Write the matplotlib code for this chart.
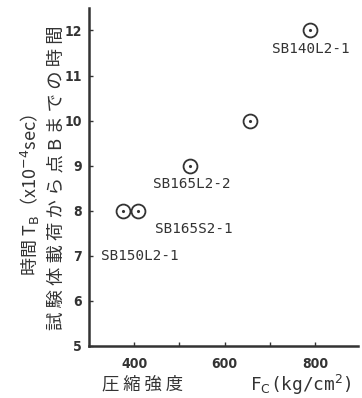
import matplotlib.pyplot as plt

plt.rcParams['font.family'] = ['Noto Sans CJK JP', 'DejaVu Sans']

# data
fc = [376, 409, 524, 655, 789]
tb = [8.0, 8.0, 9.0, 10.0, 12.0]
names = ['SB150L2-1', 'SB165S2-1', 'SB165L2-2', 'SB140L2-1']
name_x = [412, 531, 527, 790]
name_y = [7.0, 7.6, 8.6, 11.6]
yticks = [5, 6, 7, 8, 9, 10, 11, 12]

ink = '#333333'

fig = plt.figure(figsize=(3.62, 3.98), dpi=100)
ax = fig.add_axes([0.246, 0.131, 0.743, 0.849])

ax.plot(fc, tb, 'o', ms=10, mfc='none', mec=ink, mew=1.3)
ax.plot(fc, tb, '.', ms=2.5, color=ink)

for s, x, y in zip(names, name_x, name_y):
    ax.text(x, y, s, ha='center', va='center', fontsize=10.3,
            family='DejaVu Sans Mono', color=ink)

ax.set_xlim(300, 895)
ax.set_ylim(5, 12.5)
ax.set_xticks([400, 500, 600, 700, 800])
ax.set_xticklabels(['400', '', '600', '', '800'])
ax.set_yticks(yticks)
for sp in ['top', 'right']:
    ax.spines[sp].set_visible(False)
for sp in ['left', 'bottom']:
    ax.spines[sp].set_linewidth(1.8)
    ax.spines[sp].set_color(ink)
ax.tick_params(direction='in', length=3, width=1, colors=ink, labelsize=10)
ax.tick_params(axis='x', pad=8)
ax.tick_params(axis='y', pad=5)
for lab in ax.get_xticklabels() + ax.get_yticklabels():
    lab.set_fontweight('bold')
    lab.set_family('DejaVu Sans')
    lab.set_fontstretch('condensed')

fig.text(0.083, 0.51, '時間 T$_\\mathrm{B}$（x10$^{-4}$sec）', rotation=90,
         ha='center', va='center', fontsize=13, color=ink)
fig.text(0.155, 0.553, ' '.join('試験体載荷から点Bまでの時間'), rotation=90,
         ha='center', va='center', fontsize=13.2, color=ink)
fig.text(0.395, 0.033, ' '.join('圧縮強度'), ha='center', va='center',
         fontsize=12.5, color=ink)
fig.text(0.83, 0.033, 'F$_\\mathrm{C}$(kg/cm$^2$)', ha='center', va='center',
         fontsize=12.8, color=ink, family='DejaVu Sans Mono')

fig.savefig('out.png', dpi=100)
